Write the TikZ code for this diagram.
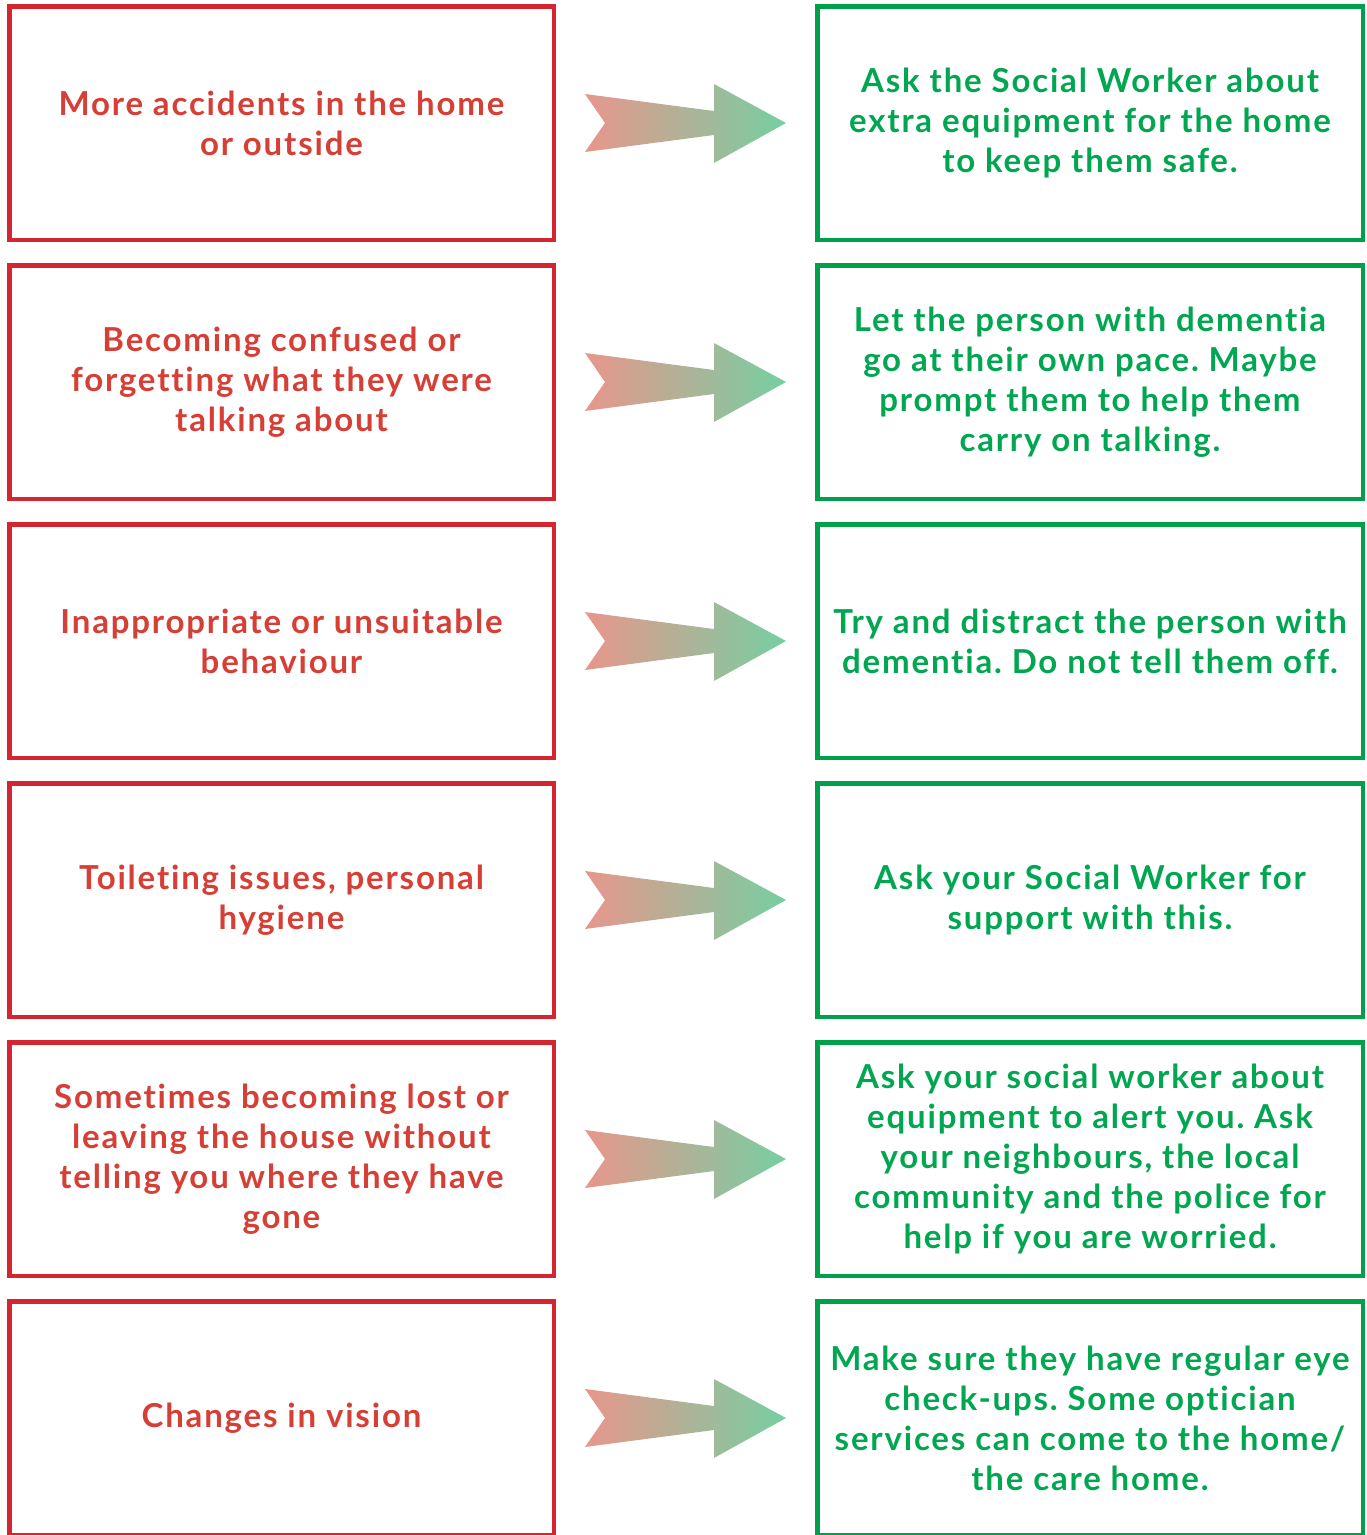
\documentclass[tikz,border=0pt]{standalone}
\usepackage{fontspec}
\setmainfont{Lato}[LetterSpace=5.5,Ligatures={NoCommon}]
\frenchspacing
\usetikzlibrary{calc}

\definecolor{boxred}{HTML}{D42630}
\definecolor{boxgreen}{HTML}{00A04A}
\definecolor{txtred}{HTML}{D63F36}
\definecolor{txtgreen}{HTML}{00A650}
\definecolor{arrowpink}{HTML}{E8968C}
\definecolor{arrowmint}{HTML}{76CFA2}

\begin{document}
\begin{tikzpicture}[x=1pt,y=-1pt,
    cell/.style={draw,line width=4.5pt,inner sep=0pt,minimum height=233.5pt,
      align=center,font=\fontsize{33}{40}\selectfont\bfseries},
    redbox/.style={cell,draw=boxred,text=txtred,minimum width=544.5pt},
    greenbox/.style={cell,draw=boxgreen,text=txtgreen,minimum width=545.5pt},
    flow/.style={left color=arrowpink,right color=arrowmint,draw=none}]
  \useasboundingbox (0,0) rectangle (1367,1535);
  % left column: what you may notice
  \node[redbox] (r1) at (281.5,123) {More accidents in the home\\or outside};
  \node[redbox] (r2) at (281.5,382) {Becoming confused or\\forgetting what they were\\talking about};
  \node[redbox] (r3) at (281.5,641) {Inappropriate or unsuitable\\behaviour};
  \node[redbox] (r4) at (281.5,900) {Toileting issues, personal\\hygiene};
  \node[redbox] (r5) at (281.5,1159) {Sometimes becoming lost or\\leaving the house without\\telling you where they have\\gone};
  \node[redbox] (r6) at (281.5,1418) {Changes in vision};
  % right column: what you can do
  \node[greenbox] (g1) at (1090,123) {Ask the Social Worker about\\extra equipment for the home\\to keep them safe.};
  \node[greenbox] (g2) at (1090,382) {Let the person with dementia\\go at their own pace. Maybe\\prompt them to help them\\carry on talking.};
  \node[greenbox] (g3) at (1090,641) {Try and distract the person with\\dementia. Do not tell them off.};
  \node[greenbox] (g4) at (1090,900) {Ask your Social Worker for\\support with this.};
  \node[greenbox] (g5) at (1090,1159) {Ask your social worker about\\equipment to alert you. Ask\\your neighbours, the local\\community and the police for\\help if you are worried.};
  \node[greenbox] (g6) at (1090,1418) {Make sure they have regular eye\\check-ups. Some optician\\services can come to the home/\\the care home.};
  % block arrows between the columns
  \foreach \i in {1,...,6}{
    \begin{scope}[shift={($(r\i.east)!0.5!(g\i.west)$)}]
      \shade[flow] (-100.5,-29) -- (-80.5,0) -- (-100.5,29) -- (28.5,12)
        -- (28.5,40) -- (100.5,0) -- (28.5,-39) -- (28.5,-12) -- cycle;
    \end{scope}
  }
\end{tikzpicture}
\end{document}
